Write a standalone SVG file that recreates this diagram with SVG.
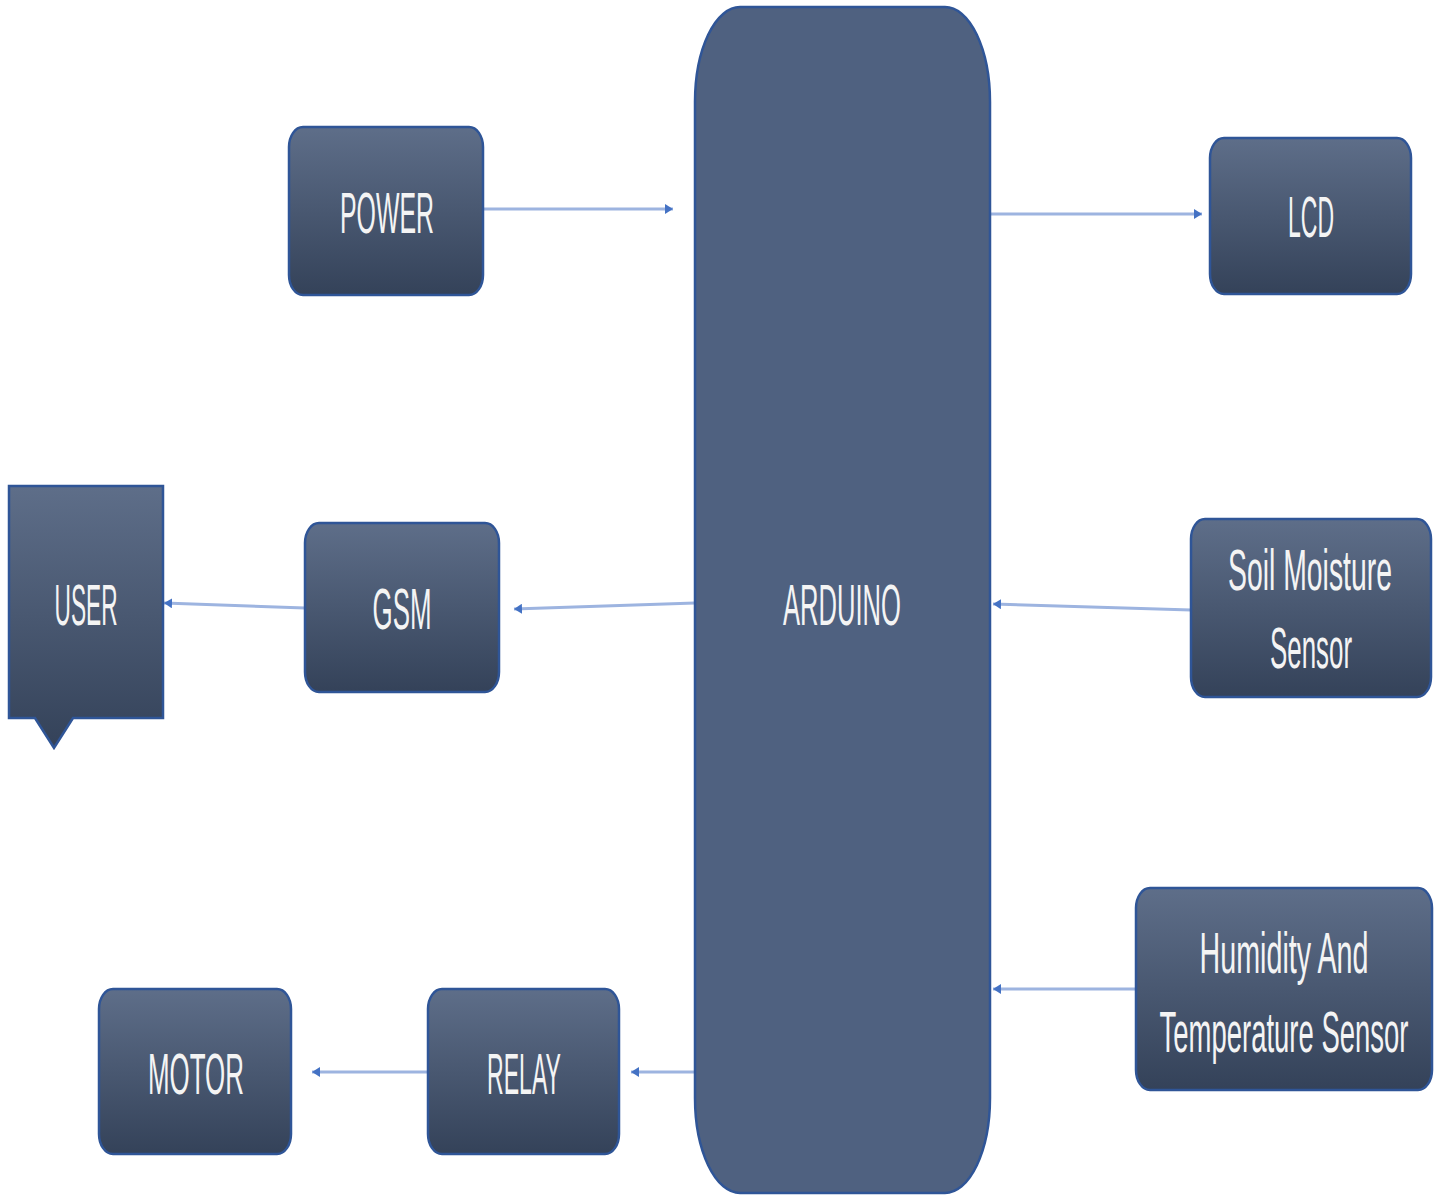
<svg xmlns="http://www.w3.org/2000/svg" width="1440" height="1195" viewBox="0 0 1440 1195">
  <defs>
    <linearGradient id="boxGrad" x1="0" y1="0" x2="0" y2="1">
      <stop offset="0" stop-color="#5e6e89"/>
      <stop offset="1" stop-color="#344259"/>
    </linearGradient>
    <marker id="arrow" viewBox="0 0 8 10" refX="8" refY="5" markerWidth="8" markerHeight="10" markerUnits="userSpaceOnUse" orient="auto">
      <path d="M0,0 L8,5 L0,10 z" fill="#4472c4"/>
    </marker>
  </defs>
  <style>
    .box { fill: url(#boxGrad); stroke: #2f5597; stroke-width: 2.5; }
    .main { fill: #4f6180; stroke: #2f5597; stroke-width: 2.5; }
    .lbl { font-family: "Liberation Sans", Arial, sans-serif; font-size: 29px; fill: #f4f4f4; text-anchor: middle; }
    .conn { stroke: #9db4e0; stroke-width: 3; fill: none; marker-end: url(#arrow); }
  </style>
  <rect width="1440" height="1195" fill="#ffffff"/>

  <g id="connectors">
    <line class="conn" x1="483" y1="209" x2="673" y2="209"/>
    <line class="conn" x1="990" y1="214" x2="1202" y2="214"/>
    <line class="conn" x1="305" y1="608" x2="164" y2="603"/>
    <line class="conn" x1="695" y1="603" x2="514" y2="609"/>
    <line class="conn" x1="1191" y1="610" x2="993" y2="604"/>
    <line class="conn" x1="1136" y1="989" x2="993" y2="989"/>
    <line class="conn" x1="695" y1="1072" x2="631" y2="1072"/>
    <line class="conn" x1="428" y1="1072" x2="312" y2="1072"/>
  </g>

  <g id="arduino">
    <rect class="main" x="695" y="7" width="295" height="1186" rx="45" ry="95"/>
    <text class="lbl" transform="translate(842,625) scale(1,1.95)" textLength="118" lengthAdjust="spacingAndGlyphs">ARDUINO</text>
  </g>

  <g id="power">
    <rect class="box" x="289" y="127" width="194" height="168" rx="14" ry="20"/>
    <text class="lbl" transform="translate(387,233) scale(1,1.95)" textLength="94" lengthAdjust="spacingAndGlyphs">POWER</text>
  </g>

  <g id="lcd">
    <rect class="box" x="1210" y="138" width="201" height="156" rx="14" ry="20"/>
    <text class="lbl" transform="translate(1311,237) scale(1,1.95)" textLength="46" lengthAdjust="spacingAndGlyphs">LCD</text>
  </g>

  <g id="user">
    <path class="box" d="M9,486 L163,486 L163,718 L73,718 L54,748 L35,718 L9,718 Z"/>
    <text class="lbl" transform="translate(86,625) scale(1,1.95)" textLength="63" lengthAdjust="spacingAndGlyphs">USER</text>
  </g>

  <g id="gsm">
    <rect class="box" x="305" y="523" width="194" height="169" rx="14" ry="20"/>
    <text class="lbl" transform="translate(402,629) scale(1,1.95)" textLength="59" lengthAdjust="spacingAndGlyphs">GSM</text>
  </g>

  <g id="soil">
    <rect class="box" x="1191" y="519" width="240" height="178" rx="14" ry="20"/>
    <text class="lbl" transform="translate(1310,590) scale(1,1.95)" textLength="164" lengthAdjust="spacingAndGlyphs">Soil Moisture</text>
    <text class="lbl" transform="translate(1311,668) scale(1,1.95)" textLength="82" lengthAdjust="spacingAndGlyphs">Sensor</text>
  </g>

  <g id="humidity">
    <rect class="box" x="1136" y="888" width="296" height="202" rx="14" ry="20"/>
    <text class="lbl" transform="translate(1284,973) scale(1,1.95)" textLength="169" lengthAdjust="spacingAndGlyphs">Humidity And</text>
    <text class="lbl" transform="translate(1284,1052) scale(1,1.95)" textLength="249" lengthAdjust="spacingAndGlyphs">Temperature Sensor</text>
  </g>

  <g id="relay">
    <rect class="box" x="428" y="989" width="191" height="165" rx="14" ry="20"/>
    <text class="lbl" transform="translate(524,1094) scale(1,1.95)" textLength="74" lengthAdjust="spacingAndGlyphs">RELAY</text>
  </g>

  <g id="motor">
    <rect class="box" x="99" y="989" width="192" height="165" rx="14" ry="20"/>
    <text class="lbl" transform="translate(196,1094) scale(1,1.95)" textLength="96" lengthAdjust="spacingAndGlyphs">MOTOR</text>
  </g>
</svg>
